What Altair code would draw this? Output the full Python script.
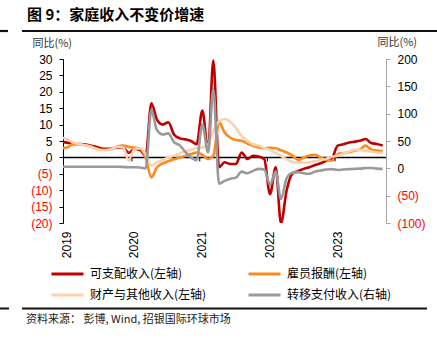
import altair as alt
import pandas as pd

NUM = "Liberation Sans"
CJK = "Noto Sans CJK SC"

# ---- data (monthly, Dec-2018 .. Sep-2023) ----
months = pd.date_range("2018-12-01", "2023-09-01", freq="MS") + pd.Timedelta(days=14)

S1 = "可支配收入(左轴)"
S2 = "雇员报酬(左轴)"
S3 = "财产与其他收入(左轴)"
S4 = "转移支付收入(右轴)"

red = [4.7,
       4.5, 4.2, 4.1, 4.0, 3.7, 3.3, 2.8, 2.6, 2.7, 3.0, 2.9, 1.4,
       2.6, 2.2, 0.5, 16.5, 11.5, 10.0, 10.7, 7.0, 5.8, 5.5, 5.0, 4.0,
       14.3, 2.0, 29.5, -3.0, -1.5, -2.0, -2.0, 1.5, -0.5, 0.5, 0.3, -0.5,
       -11.2, -3.0, -20.0, -10.0, -5.0, -4.2, -3.5, -3.0, -2.3, -1.8, -1.0, -0.3,
       3.6, 4.0, 4.5, 4.8, 5.1, 5.6, 4.4, 4.1, 3.6]
orange = [2.8,
          3.0, 4.0, 4.1, 3.8, 3.5, 2.8, 2.4, 2.3, 2.7, 3.3, 3.6, 3.2,
          3.0, 2.6, 0.0, -6.1, -3.0, -1.8, -1.2, -0.6, 0.0, 0.5, 1.0, 1.5,
          0.8, -0.5, 0.5, 10.7, 7.6, 6.0, 5.3, 5.1, 4.2, 3.6, 3.0, 2.8,
          2.9, 2.8, 2.2, 1.5, 0.6, -0.8, -0.1, 0.6, 0.8, 0.0, -0.7, -1.0,
          1.0, 1.3, 1.6, 2.0, 2.4, 3.6, 2.4, 2.1, 1.9]
peach = [6.0,
         5.6, 4.6, 4.2, 3.8, 3.4, 2.8, 2.2, 2.2, 2.6, 3.2, 3.0, -1.0,
         2.6, 2.8, 1.0, -2.5, -1.5, -0.8, 0.0, 0.5, 1.2, 1.8, 2.3, 2.8,
         3.0, 4.0, 8.0, 11.0, 11.7, 10.8, 9.0, 6.5, 5.0, 4.0, 3.6, 2.8,
         2.3, 1.3, 0.5, -0.6, -1.3, -1.6, -1.6, -1.5, -1.2, -0.8, -0.4, 0.2,
         0.5, 1.2, 1.8, 2.3, 2.3, 2.0, 1.8, 1.5, 1.3]
gray = [3,
        3, 3, 3, 3, 3, 3, 3, 3, 3, 3, 2.5, 2,
        2, 1.5, 0, 107, 70, 62, 64, 48, 42, 30, 20, 15,
        80, 29, 145, -28, -23, -19, -17, -6, -9, -5, -1, -2,
        -30, -6, -56, -18, -8, -7, -9, -10, -6, -4, -2, -1.5,
        -3, -2, -1.5, -1, -0.5, 0.5, 0.7, -0.5, -1]

# legend fills column by column: order so rows read S1,S2 / S3,S4
series_names = [S1, S3, S2, S4]
series_colors = ["#C00000", "#FBD2B0", "#FF8A1C", "#9A9A9A"]
left_ticks = [-20, -15, -10, -5, 0, 5, 10, 15, 20, 25, 30]
right_ticks = [-100, -50, 0, 50, 100, 150, 200]
years = [2019, 2020, 2021, 2022, 2023]

def frame(name, vals):
    return pd.DataFrame({"date": months, "series": name, "value": vals})

df_red, df_orange, df_peach, df_gray = (frame(S1, red), frame(S2, orange),
                                        frame(S3, peach), frame(S4, gray))
df_ticks = pd.DataFrame({"date": pd.to_datetime([f"{y}-01-01" for y in years[1:]]),
                         "zero": 0})

# ---- encodings ----
neg_expr = "datum.value < 0 ? '(' + abs(datum.value) + ')' : datum.label"
lab_color = {"condition": {"test": "datum.value < 0", "value": "#FF0000"}, "value": "#000000"}

def xenc():
    return alt.X(
        "date:T",
        scale=alt.Scale(domain=[alt.DateTime(year=2018, month=12, date=25),
                                alt.DateTime(year=2023, month=10, date=3)]),
        axis=alt.Axis(values=[alt.DateTime(year=y, month=1, date=1) for y in years],
                      format="%Y", labelAngle=270, domain=False, ticks=False, tickSize=0,
                      grid=False, title=None, labelFont=NUM, labelFontSize=12,
                      labelColor="#000000", labelPadding=8, labelOffset=2,
                      labelFlush=False, labelOverlap=False),
    )

def yleft(field):
    return alt.Y(
        f"{field}:Q",
        scale=alt.Scale(domain=[-20, 30], nice=False, zero=False),
        axis=alt.Axis(values=left_ticks, labelExpr=neg_expr, labelColor=lab_color,
                      labelFont=NUM, labelFontSize=12, labelPadding=7, labelOverlap=False,
                      domainColor="#000000", domainWidth=1, tickColor="#000000", tickSize=4,
                      grid=False, title="同比(%)", titleAngle=0, titleAlign="left",
                      titleBaseline="middle", titleX=-31, titleY=-16, titleFont=CJK,
                      titleFontSize=11, titleFontWeight="normal", titleColor="#333333"),
    )

def yright(field):
    return alt.Y(
        f"{field}:Q",
        scale=alt.Scale(domain=[-100, 200], nice=False, zero=False),
        axis=alt.Axis(orient="right", values=right_ticks, labelExpr=neg_expr,
                      labelColor=lab_color, labelFont=NUM, labelFontSize=12,
                      labelPadding=7, labelOverlap=False, domainColor="#A6A6A6",
                      tickColor="#A6A6A6", tickSize=4, grid=False, title="同比(%)",
                      titleAngle=0, titleAlign="left", titleBaseline="middle",
                      titleX=-9, titleY=-17, titleFont=CJK, titleFontSize=11,
                      titleFontWeight="normal", titleColor="#333333"),
    )

color = alt.Color(
    "series:N",
    scale=alt.Scale(domain=series_names, range=series_colors),
    sort=series_names,
    legend=alt.Legend(orient="none", legendX=-13, legendY=208, columns=2, title=None,
                      symbolType="stroke", symbolSize=1024, symbolStrokeWidth=3,
                      labelFont=CJK, labelFontSize=12, labelColor="#000000",
                      labelOffset=5, columnPadding=40, rowPadding=7, clipHeight=14,
                      padding=0, labelLimit=300),
)

def line(df, y):
    return alt.Chart(df).mark_line(strokeWidth=2.6, interpolate="monotone", clip=True).encode(
        x=xenc(), y=y, color=color)

zero_rule = alt.Chart(pd.DataFrame({"zero": [0]})).mark_rule(
    color="#000000", strokeWidth=1.5).encode(y=yleft("zero"))
year_marks = alt.Chart(df_ticks).mark_rule(color="#000000", strokeWidth=1, y2Offset=4).encode(
    x=xenc(), y=yleft("zero"), y2=alt.Y2("zero"))

left_group = alt.layer(
    zero_rule,
    line(df_red, yleft("value")),
    line(df_orange, yleft("value")),
    line(df_peach, yleft("value")),
    year_marks,
)
right_group = line(df_gray, yright("value"))

# ---- page decorations ----
title = alt.Chart(pd.DataFrame({"t": ["图 9：家庭收入不变价增速"]})).mark_text(
    align="left", baseline="middle", font=CJK, fontSize=15, fontWeight="bold",
    color="#000000").encode(text="t:N", x=alt.value(-36), y=alt.value(-44))
source = alt.Chart(pd.DataFrame({"t": ["资料来源： 彭博, Wind, 招银国际环球市场"]})).mark_text(
    align="left", baseline="middle", font=CJK, fontSize=11, color="#222222").encode(
    text="t:N", x=alt.value(-37), y=alt.value(261))

def hrule(x1, x2, y, w):
    return alt.Chart(pd.DataFrame({"k": [0]})).mark_rule(color="#111111", strokeWidth=w).encode(
        x=alt.value(x1), x2=alt.value(x2), y=alt.value(y))

deco = alt.layer(
    hrule(-63, -55, -28, 2.2), hrule(-41, 374, -28, 2.2),
    hrule(-63, -54, 249.5, 2), hrule(-41, 364, 249.5, 2),
    title, source,
)

chart = alt.layer(left_group, right_group, deco).resolve_scale(y="independent").properties(
    width=323, height=164,
    padding={"left": 63, "top": 59, "right": 51, "bottom": 118},
    autosize=alt.AutoSizeParams(type="none"),
    background="#FFFFFF",
).configure_view(stroke=None)

chart.save("out.html", embed_options={"renderer": "svg", "actions": False})
